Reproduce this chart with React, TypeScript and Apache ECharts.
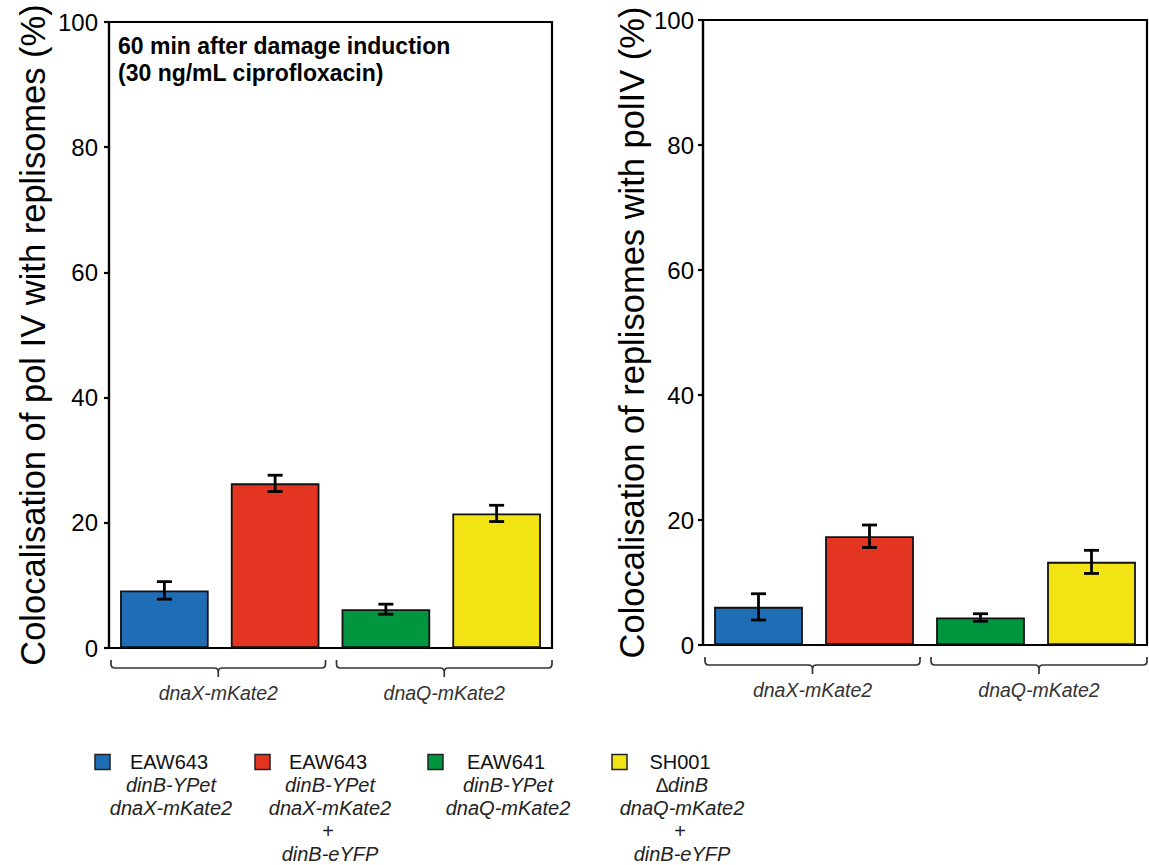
import React, { useEffect, useRef } from "react";
import * as echarts from "echarts";

// ---------- data ----------
const CATEGORIES = [
  "EAW643 dnaX-mKate2",
  "EAW643 dnaX-mKate2 + dinB-eYFP",
  "EAW641 dnaQ-mKate2",
  "SH001 dnaQ-mKate2 + dinB-eYFP",
];
const BAR_COLORS = ["#1f6db5", "#e43523", "#00963f", "#f2e414"];

const LEFT_VALUES = [9.2, 26.3, 6.2, 21.5];
const LEFT_ERRORS = [1.4, 1.3, 0.8, 1.3];
const RIGHT_VALUES = [6.1, 17.4, 4.4, 13.3];
const RIGHT_ERRORS = [2.1, 1.8, 0.6, 1.85];

const Y_MIN = 0;
const Y_MAX = 100;
const Y_INTERVAL = 20;

const LEFT_TITLE = "Colocalisation of pol IV with replisomes (%)";
const RIGHT_TITLE = "Colocalisation of replisomes with polIV (%)";
const ANNOTATION = ["60 min after damage induction", "(30 ng/mL ciprofloxacin)"];

const GROUP_LABELS = ["dnaX-mKate2", "dnaQ-mKate2"];
const GROUP_RANGES = [
  [0, 1],
  [2, 3],
];

const LEGEND_TITLES = ["EAW643", "EAW643", "EAW641", "SH001"];
const LEGEND_LINES = [
  ["dinB-YPet", "dnaX-mKate2"],
  ["dinB-YPet", "dnaX-mKate2", "+", "dinB-eYFP"],
  ["dinB-YPet", "dnaQ-mKate2"],
  ["\u2206dinB", "dnaQ-mKate2", "+", "dinB-eYFP"],
];

// ---------- layout ----------
const FONT = '"Liberation Sans", Arial, Helvetica, sans-serif';
const LEGEND_SQUARE_X = [95, 255, 428, 612];
const LEGEND_TEXT_X = [169, 328, 506, 680];
const LEGEND_Y0 = 762;
const LEGEND_LINE_H = 23;

function errorSeries(values: number[], errors: number[], idx: number) {
  return {
    type: "custom",
    xAxisIndex: idx,
    yAxisIndex: idx,
    z: 5,
    clip: false,
    data: values.map((v, i) => [i, v - errors[i], v + errors[i]]),
    encode: { x: 0, y: [1, 2] },
    renderItem: (_params: any, api: any) => {
      const x = api.value(0);
      const lo = api.coord([x, api.value(1)]);
      const hi = api.coord([x, api.value(2)]);
      const cap = 7.5;
      const st = { stroke: "#000", lineWidth: 2.8 };
      return {
        type: "group",
        children: [
          { type: "line", shape: { x1: lo[0], y1: lo[1], x2: hi[0], y2: hi[1] }, style: st },
          { type: "line", shape: { x1: lo[0] - cap, y1: lo[1], x2: lo[0] + cap, y2: lo[1] }, style: st },
          { type: "line", shape: { x1: hi[0] - cap, y1: hi[1], x2: hi[0] + cap, y2: hi[1] }, style: st },
        ],
      };
    },
  };
}

function bracketSeries(idx: number) {
  return {
    type: "custom",
    xAxisIndex: idx,
    yAxisIndex: idx,
    clip: false,
    silent: true,
    data: GROUP_RANGES.map((r) => [r[0], r[1]]),
    encode: { x: 0, y: 1 },
    renderItem: (params: any, api: any) => {
      const s = api.value(0);
      const e = api.value(1);
      const band = api.size([1, 0])[0];
      const ps = api.coord([s, 0]);
      const pe = api.coord([e, 0]);
      const last = params.dataIndex === GROUP_RANGES.length - 1;
      const first = params.dataIndex === 0;
      const x0 = ps[0] - band / 2 + (first ? 2 : 6);
      const x1 = pe[0] + band / 2 - (last ? 0 : 5);
      const mid = (x0 + x1) / 2;
      const base = ps[1];
      const y0 = base + 12;
      const yh = base + 20;
      const yt = base + 29;
      const r = 4;
      const d =
        `M${x0} ${y0} L${x0} ${yh - r} Q${x0} ${yh} ${x0 + r} ${yh} L${mid - r} ${yh} Q${mid} ${yh} ${mid} ${yh + r} L${mid} ${yt} ` +
        `M${mid} ${yh + r} Q${mid} ${yh} ${mid + r} ${yh} L${x1 - r} ${yh} Q${x1} ${yh} ${x1} ${yh - r} L${x1} ${y0}`;
      return {
        type: "group",
        children: [
          {
            type: "path",
            shape: { pathData: d },
            style: { stroke: "#333", lineWidth: 1.7, fill: "none" },
          },
          {
            type: "text",
            style: {
              text: GROUP_LABELS[params.dataIndex],
              x: mid,
              y: base + 45,
              align: "center",
              verticalAlign: "middle",
              fontFamily: FONT,
              fontSize: 19.5,
              fontStyle: "italic",
              fill: "#333",
            },
          },
        ],
      };
    },
  };
}

function barSeries(values: number[], idx: number) {
  return {
    type: "bar",
    xAxisIndex: idx,
    yAxisIndex: idx,
    barCategoryGap: "20%",
    z: 3,
    data: values.map((v, i) => ({
      value: v,
      itemStyle: { color: BAR_COLORS[i], borderColor: "#111", borderWidth: 1.8 },
    })),
  };
}

function yAxis(idx: number, title: string, labelMargin: number, nameGap: number) {
  return {
    type: "value",
    gridIndex: idx,
    min: Y_MIN,
    max: Y_MAX,
    interval: Y_INTERVAL,
    name: title,
    nameLocation: "middle",
    nameRotate: 90,
    nameGap,
    nameTextStyle: { fontFamily: FONT, fontSize: 34.5, color: "#000" },
    axisLine: { show: true, lineStyle: { color: "#000", width: 2.2 } },
    axisTick: { show: true, length: 5, lineStyle: { color: "#000", width: 2.2 } },
    axisLabel: { fontFamily: FONT, fontSize: 24, color: "#000", margin: labelMargin },
    splitLine: { show: false },
  };
}

function xAxis(idx: number) {
  return {
    type: "category",
    gridIndex: idx,
    data: CATEGORIES,
    axisLine: { show: true, lineStyle: { color: "#000", width: 2.2 } },
    axisTick: { show: false },
    axisLabel: { show: false },
    splitLine: { show: false },
  };
}

export default function App() {
  const ref = useRef<HTMLDivElement>(null);
  useEffect(() => {
    if (!ref.current) return;
    const chart = echarts.init(ref.current, undefined, { renderer: "svg" });

    const legendGraphics: any[] = [];
    LEGEND_TITLES.forEach((t, i) => {
      legendGraphics.push({
        type: "rect",
        shape: { x: LEGEND_SQUARE_X[i], y: LEGEND_Y0 - 7.5, width: 15, height: 15 },
        style: { fill: BAR_COLORS[i], stroke: "#222", lineWidth: 1.5 },
      });
      legendGraphics.push({
        type: "text",
        x: LEGEND_TEXT_X[i],
        y: LEGEND_Y0,
        style: {
          text: t,
          align: "center",
          verticalAlign: "middle",
          fontFamily: FONT,
          fontSize: 20,
          fill: "#111",
        },
      });
      LEGEND_LINES[i].forEach((line, j) => {
        legendGraphics.push({
          type: "text",
          x: LEGEND_TEXT_X[i] + (line === "+" ? 0 : 2),
          y: LEGEND_Y0 + LEGEND_LINE_H * (j + 1),
          style: {
            text: line,
            align: "center",
            verticalAlign: "middle",
            fontFamily: FONT,
            fontSize: 20,
            fontStyle: line === "+" ? "normal" : "italic",
            fill: "#222",
          },
        });
      });
    });

    chart.setOption({
      animation: false,
      backgroundColor: "#fff",
      grid: [
        { left: 109, top: 22, width: 443, height: 626, show: true, borderColor: "#000", borderWidth: 2.2, backgroundColor: "transparent" },
        { left: 703, top: 20, width: 444, height: 625, show: true, borderColor: "#000", borderWidth: 2.2, backgroundColor: "transparent" },
      ],
      xAxis: [xAxis(0), xAxis(1)],
      yAxis: [yAxis(0, LEFT_TITLE, 11, 59), yAxis(1, RIGHT_TITLE, 9, 54)],
      series: [
        barSeries(LEFT_VALUES, 0),
        errorSeries(LEFT_VALUES, LEFT_ERRORS, 0),
        bracketSeries(0),
        barSeries(RIGHT_VALUES, 1),
        errorSeries(RIGHT_VALUES, RIGHT_ERRORS, 1),
        bracketSeries(1),
      ],
      graphic: [
        {
          type: "text",
          x: 118,
          y: 32,
          style: {
            text: ANNOTATION.join("\n"),
            fontFamily: FONT,
            fontSize: 23,
            fontWeight: "bold",
            lineHeight: 27,
            fill: "#000",
          },
        },
        ...legendGraphics,
      ],
    });
    return () => chart.dispose();
  }, []);
  return (
    <div
      ref={ref}
      style={{ position: "absolute", left: 0, top: 0, width: 1149, height: 865 }}
    />
  );
}
